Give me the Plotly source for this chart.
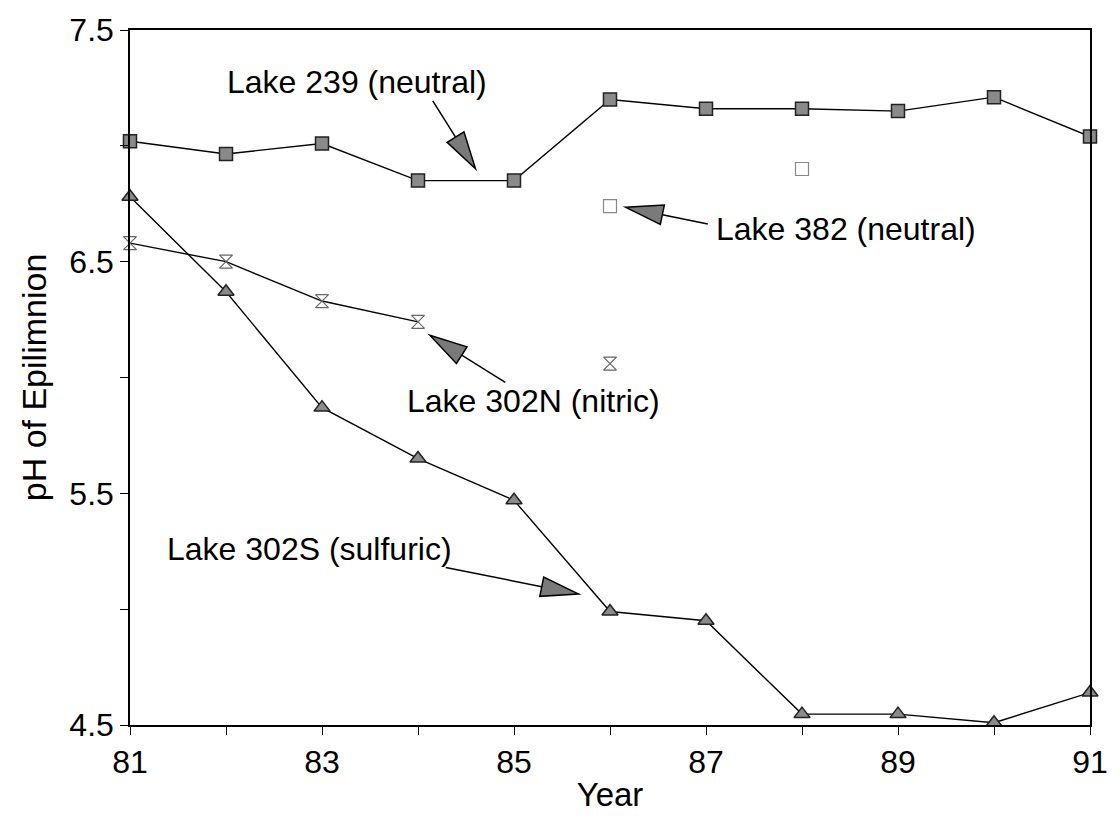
import plotly.graph_objects as go

# ---------------- data ----------------
years = [81, 82, 83, 84, 85, 86, 87, 88, 89, 90, 91]
lake239 = [7.02, 6.965, 7.01, 6.85, 6.85, 7.20, 7.16, 7.16, 7.15, 7.21, 7.04]
lake382_years = [86, 88]
lake382 = [6.74, 6.90]
lake302n_years = [81, 82, 83, 84, 85, 86]
lake302n = [6.58, 6.50, 6.33, 6.24, None, 6.06]
lake302s = [6.78, 6.37, 5.87, 5.65, 5.47, 4.99, 4.95, 4.547, 4.547, 4.51, 4.64]

x_tickvals = years
x_ticktext = ["81", "", "83", "", "85", "", "87", "", "89", "", "91"]
y_tickvals = [4.5, 5.0, 5.5, 6.0, 6.5, 7.0, 7.5]
y_ticktext = ["4.5", "", "5.5", "", "6.5", "", "7.5"]

labels = ["Lake 239 (neutral)", "Lake 382 (neutral)",
          "Lake 302N (nitric)", "Lake 302S (sulfuric)"]

# ---------------- layout geometry ----------------
W, H = 1120, 819
ML, MR, MT, MB = 130, 23, 22, 91
XR = [81, 91]
YR = [4.5, 7.5]
PW = W - ML - MR
PH = H - MT - MB
FONT = "Liberation Sans, Arial, Helvetica, sans-serif"


def to_data(px, py):
    x = XR[0] + (px - ML) / PW * (XR[1] - XR[0])
    y = YR[1] - (py - MT) / PH * (YR[1] - YR[0])
    return x, y


# label centres and arrows (pixel space): text centre, arrow tail, arrow tip
label_pos = [(359, 75), (851, 224), (536, 399), (311, 549)]
arrow_tail = [(435, 94), (712, 219), (508, 380), (448, 568)]
arrow_tip = [(478, 163), (629, 202), (432, 332), (582, 595)]
HEAD_LEN, HEAD_HALF = 38, 10

fig = go.Figure()

line_style = dict(color="black", width=1.4)

fig.add_trace(go.Scatter(
    x=years, y=lake239, mode="lines+markers", name="Lake 239",
    line=line_style, cliponaxis=False,
    marker=dict(symbol="square", size=13, color="#8a8a8a",
                line=dict(color="#222", width=1.5))))

fig.add_trace(go.Scatter(
    x=lake382_years, y=lake382, mode="markers", name="Lake 382",
    cliponaxis=False,
    marker=dict(symbol="square", size=13, color="white",
                line=dict(color="#888", width=1.2))))

fig.add_trace(go.Scatter(
    x=lake302n_years, y=lake302n, mode="lines+markers", name="Lake 302N",
    line=line_style, connectgaps=False, cliponaxis=False,
    marker=dict(symbol="hourglass-open", size=13, color="#666",
                line=dict(color="#666", width=1.2))))

fig.add_trace(go.Scatter(
    x=years, y=lake302s, mode="lines+markers", name="Lake 302S",
    line=line_style, cliponaxis=False,
    marker=dict(symbol="triangle-up", size=14, color="#8a8a8a",
                line=dict(color="#222", width=1.5))))

shapes = []
annotations = []
for text, (cx, cy), (tx, ty), (hx, hy) in zip(labels, label_pos, arrow_tail, arrow_tip):
    ax_, ay_ = to_data(cx, cy)
    annotations.append(dict(x=ax_, y=ay_, xref="x", yref="y", text=text,
                            showarrow=False, xanchor="center", yanchor="middle",
                            font=dict(family=FONT, size=32, color="black")))
    dx, dy = hx - tx, hy - ty
    L = (dx ** 2 + dy ** 2) ** 0.5
    ux, uy = dx / L, dy / L
    bx, by = hx - ux * HEAD_LEN, hy - uy * HEAD_LEN
    px_, py_ = -uy, ux
    c1 = to_data(bx + px_ * HEAD_HALF, by + py_ * HEAD_HALF)
    c2 = to_data(bx - px_ * HEAD_HALF, by - py_ * HEAD_HALF)
    tip = to_data(hx, hy)
    t0 = to_data(tx, ty)
    b0 = to_data(bx, by)
    shapes.append(dict(type="line", xref="x", yref="y", x0=t0[0], y0=t0[1],
                       x1=b0[0], y1=b0[1], line=dict(color="black", width=1.5)))
    shapes.append(dict(type="path", xref="x", yref="y",
                       path=f"M {tip[0]},{tip[1]} L {c1[0]},{c1[1]} L {c2[0]},{c2[1]} Z",
                       fillcolor="#7a7a7a", line=dict(color="black", width=1.5)))

axis_common = dict(showline=True, linecolor="black", linewidth=1.5, mirror=True,
                   ticks="outside", ticklen=8, tickwidth=1.3, tickcolor="black",
                   showgrid=False, zeroline=False,
                   tickfont=dict(family=FONT, size=32, color="black"))

fig.update_layout(
    width=W, height=H,
    margin=dict(l=ML, r=MR, t=MT, b=MB, pad=0),
    paper_bgcolor="white", plot_bgcolor="white",
    showlegend=False,
    shapes=shapes, annotations=annotations,
    xaxis=dict(range=XR, tickvals=x_tickvals, ticktext=x_ticktext,
               title=dict(text="Year", font=dict(family=FONT, size=33, color="black"),
                          standoff=4),
               **axis_common),
    yaxis=dict(range=YR, tickvals=y_tickvals, ticktext=y_ticktext,
               title=dict(text="pH of Epilimnion", font=dict(family=FONT, size=34, color="black"),
                          standoff=12),
               **axis_common),
)

fig.write_html("out.html")
